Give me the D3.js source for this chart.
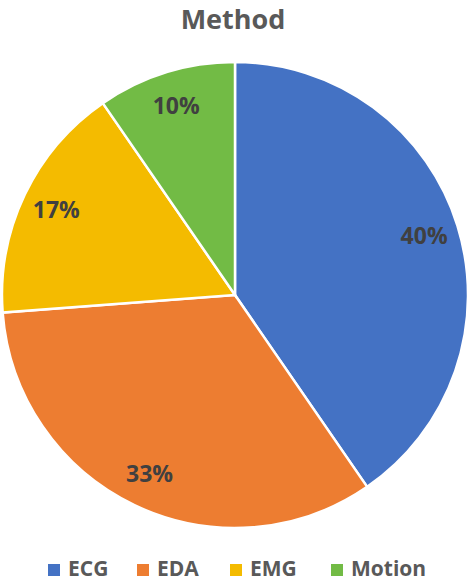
<!DOCTYPE html>
<html>
<head>
<meta charset="utf-8">
<script src="https://cdn.jsdelivr.net/npm/d3@7"></script>
<style>
  body { margin: 0; background: #fff; }
  #container { width: 470px; height: 583px; }
</style>
</head>
<body>
<div id="container"></div>
<script>
const categories = ["ECG", "EDA", "EMG", "Motion"];
const values = [40.4, 33.4, 16.6, 9.6];
const colors = ["#4472C4", "#ED7D31", "#F4BB00", "#72BB45"];
const title = "Method";

const chart = () => {
  const width = 470, height = 583;
  const cx = 235, cy = 295, radius = 233;
  const font = "'Open Sans', 'Noto Sans', sans-serif";

  const data = categories.map((name, i) => ({ name, value: values[i] }));

  const pie = d3.pie().sort(null).value(d => d.value);
  const arc = d3.arc().innerRadius(0).outerRadius(radius);
  const labelArc = d3.arc().innerRadius(radius * 0.85).outerRadius(radius * 0.85);

  const color = d3.scaleOrdinal().domain(categories).range(colors);

  const svg = d3.create("svg")
    .attr("width", width)
    .attr("height", height)
    .style("display", "block");

  svg.append("text")
    .attr("x", 233)
    .attr("y", 29)
    .attr("text-anchor", "middle")
    .attr("font-family", font)
    .attr("font-weight", "bold")
    .attr("font-size", 27)
    .attr("fill", "#595959")
    .text(title);

  const g = svg.append("g").attr("transform", `translate(${cx},${cy})`);

  g.selectAll("path")
    .data(pie(data))
    .join("path")
    .attr("d", arc)
    .attr("fill", d => color(d.data.name))
    .attr("stroke", "#fff")
    .attr("stroke-width", 2.5);

  g.selectAll("text")
    .data(pie(data))
    .join("text")
    .attr("transform", d => `translate(${labelArc.centroid(d)})`)
    .attr("text-anchor", "middle")
    .attr("dy", "0.35em")
    .attr("font-family", font)
    .attr("font-weight", "bold")
    .attr("font-size", 23)
    .attr("fill", "#404040")
    .text(d => Math.round(d.data.value) + "%");

  // legend entries, left edges of the swatches
  const offsets = { ECG: 48, EDA: 137, EMG: 230, Motion: 331 };
  const legend = svg.append("g")
    .selectAll("g")
    .data(categories)
    .join("g")
    .attr("transform", d => `translate(${offsets[d]},570)`);

  legend.append("rect")
    .attr("x", 0).attr("y", -6)
    .attr("width", 12).attr("height", 12)
    .attr("fill", d => color(d));

  legend.append("text")
    .attr("x", 20)
    .attr("y", 6)
    .attr("font-family", font)
    .attr("font-weight", "bold")
    .attr("font-size", 21)
    .attr("fill", "#595959")
    .text(d => d);

  return svg.node();
};

const container = document.getElementById("container");
container.innerHTML = '';
container.appendChild(chart());
</script>
</body>
</html>
